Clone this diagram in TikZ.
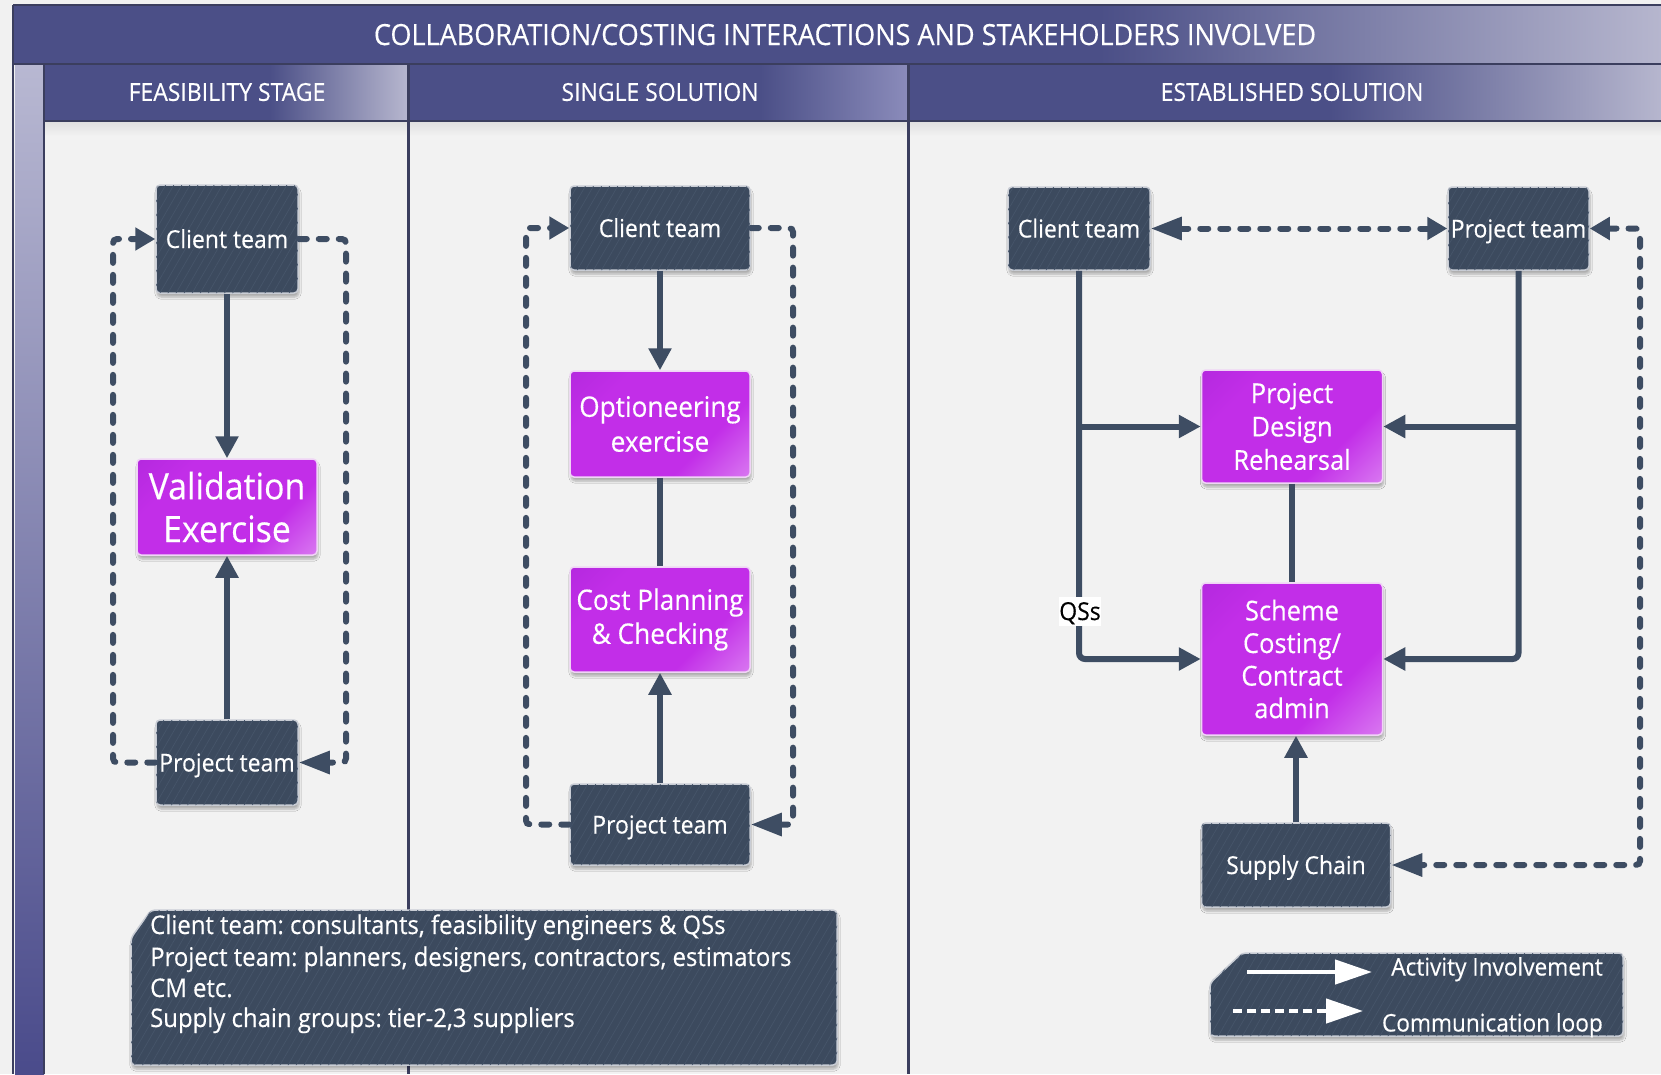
\documentclass[tikz,border=0pt]{standalone}
\usepackage{fontspec}
\setmainfont{Open Sans}[FakeStretch=0.93, FakeBold=0.35]
\usetikzlibrary{arrows.meta,shadows.blur,patterns.meta}
\frenchspacing

\definecolor{outside}{HTML}{F1F1F1}
\definecolor{paper}{HTML}{F2F2F2}
\definecolor{slate}{HTML}{3C4A5E}
\definecolor{wire}{HTML}{3E4D63}
\definecolor{hatch}{HTML}{46556A}
\definecolor{rimgray}{HTML}{C9CDD5}
\definecolor{barblue}{HTML}{4B4F87}
\definecolor{barmid}{HTML}{8A8BBA}
\definecolor{barlight}{HTML}{B6B6CE}
\definecolor{striplight}{HTML}{B8B8D2}
\definecolor{stripdark}{HTML}{4A4B8B}
\definecolor{divider}{HTML}{3B3E5E}
\definecolor{magA}{HTML}{A824D6}
\definecolor{magB}{HTML}{C22EE8}
\definecolor{magC}{HTML}{EAB0F7}
\definecolor{magrim}{HTML}{F0D4F6}

% diagonal fill of the task boxes: deep violet corner to pale pink corner
\pgfdeclarehorizontalshading{taskfill}{100bp}{color(0bp)=(magA); color(30bp)=(magB);
  color(66bp)=(magB); color(100bp)=(magC)}

\newcommand{\boxfont}{\fontsize{24.8}{30}\selectfont}

\tikzset{
  softshadow/.style={blur shadow={shadow xshift=1bp, shadow yshift=-4bp,
      shadow blur steps=6, shadow opacity=28}},
  hatched/.style={postaction={pattern={Lines[angle=60,distance=7bp,line width=0.7bp]},
      pattern color=hatch}},
  teambox/.style={draw=rimgray, line width=1.5bp, fill=slate, rounded corners=4bp,
      text=white, font=\boxfont, inner sep=2bp, align=center,
      text height=18bp, text depth=0bp, softshadow, hatched},
  taskbox/.style={draw=magrim, line width=1.5bp, rounded corners=4bp,
      shading=taskfill, shading angle=-45,
      text=white, align=center, inner sep=2bp, softshadow},
  panelbox/.style={draw=rimgray, line width=1.5bp, fill=slate, rounded corners=4bp,
      softshadow, hatched},
  whitetext/.style={text=white, inner sep=0bp},
  act/.style={draw=wire, line width=6bp, -{Triangle[length=22bp,width=22bp]}},
  actline/.style={draw=wire, line width=6bp},
  comm/.style={draw=wire, line width=6bp, line cap=round,
      dash pattern=on 8bp off 12bp, rounded corners=4bp},
  tipS/.tip={Triangle[length=20bp,width=22bp]},
  tipL/.tip={Triangle[length=31bp,width=22bp]},
  legtip/.tip={Triangle[length=37bp,width=24bp]},
}

\begin{document}
\begin{tikzpicture}[x=1bp,y=-1bp]
\useasboundingbox (0,0) rectangle (1661,1074);

% ---------- frame, title bar and column headers ----------
\fill[outside] (0,0) rectangle (1661,1074);
\fill[paper] (44,121) rectangle (1661,1074);
\shade[top color=black!12, bottom color=paper] (45,122) rectangle (1661,136);

\fill[barblue] (13,5) rectangle (1661,63);
\shade[left color=barblue, right color=barlight] (1100,5) rectangle (1661,63);

\fill[barblue] (44,64) rectangle (1661,121);
\shade[left color=barblue, right color=barlight] (270,64) rectangle (407,121);
\shade[left color=barblue, right color=barmid] (760,64) rectangle (907,121);
\shade[left color=barblue, right color=barlight] (1330,64) rectangle (1661,121);

\shade[top color=striplight, bottom color=stripdark] (15,64) rectangle (44,1074);

\draw[divider, line width=2bp] (13,5) -- (1661,5);
\draw[divider, line width=2bp] (13,5) -- (13,1074);
\draw[divider, line width=2bp] (13,63.5) -- (1661,63.5);
\draw[divider, line width=2bp] (44,64) -- (44,1074);
\draw[divider, line width=2bp] (44,121) -- (1661,121);
\draw[divider, line width=3bp] (408.5,64) -- (408.5,1074);
\draw[divider, line width=3bp] (908,64) -- (908,1074);

\node[whitetext, font=\fontsize{29.2}{34}\selectfont, text height=20bp, text depth=0bp]
  (title) at (845,35) {COLLABORATION/COSTING INTERACTIONS AND STAKEHOLDERS INVOLVED};
\node[whitetext, font=\fontsize{24.8}{30}\selectfont, text height=17.7bp, text depth=0bp]
  (hfeas) at (227,92) {FEASIBILITY STAGE};
\node[whitetext, font=\fontsize{24.8}{30}\selectfont, text height=17.7bp, text depth=0bp]
  (hsingle) at (660,92) {SINGLE SOLUTION};
\node[whitetext, font=\fontsize{24.8}{30}\selectfont, text height=17.7bp, text depth=0bp]
  (hest) at (1292,92) {ESTABLISHED SOLUTION};

% ---------- feasibility stage ----------
\node[teambox, minimum width=142bp, minimum height=108bp] (fc) at (227,239) {Client team};
\node[taskbox, minimum width=180bp, minimum height=96bp,
      font=\fontsize{36.5}{43}\selectfont] (fv) at (227,507) {Validation\\Exercise};
\node[teambox, minimum width=142bp, minimum height=85bp] (fp) at (227,762.5) {Project team};

\coordinate (fl) at (113,0);
\coordinate (fr) at (346,0);
\draw[act] (fc.south) -- (fv.north);
\draw[act] (fp.north) -- (fv.south);
\draw[comm, -tipS] (fp.west) -| (fl |- fc.west) -- (fc.west);
\draw[comm, -tipL] (fc.east) -| (fr |- fp.east) -- (fp.east);

% ---------- single solution ----------
\node[teambox, minimum width=180bp, minimum height=84bp] (sc) at (660,228) {Client team};
\node[taskbox, minimum width=180bp, minimum height=106bp,
      font=\fontsize{28.3}{35}\selectfont] (so) at (660,424) {Optioneering\\exercise};
\node[taskbox, minimum width=180bp, minimum height=105bp,
      font=\fontsize{28.3}{34}\selectfont] (sk) at (660,619.5) {Cost Planning\\\& Checking};
\node[teambox, minimum width=180bp, minimum height=81bp] (sp) at (660,824.5) {Project team};

\coordinate (sl) at (526,0);
\coordinate (sr) at (793,0);
\draw[act] (sc.south) -- (so.north);
\draw[actline] (so.south) -- (sk.north);
\draw[act] (sp.north) -- (sk.south);
\draw[comm, -tipS] (sp.west) -| (sl |- sc.west) -- (sc.west);
\draw[comm, -tipL] (sc.east) -| (sr |- sp.east) -- (sp.east);

% ---------- established solution ----------
\node[teambox, minimum width=142bp, minimum height=83bp] (ec) at (1079,228.5) {Client team};
\node[teambox, minimum width=141bp, minimum height=83bp] (ep) at (1518.5,228.5) {Project team};
\node[taskbox, minimum width=181bp, minimum height=113bp,
      font=\fontsize{27.5}{33.5}\selectfont] (ed) at (1292,426.5) {Project\\Design\\Rehearsal};
\node[taskbox, minimum width=181bp, minimum height=152bp,
      font=\fontsize{27.5}{32.7}\selectfont] (es) at (1292,659) {Scheme\\Costing/\\Contract\\admin};
\node[teambox, minimum width=189bp, minimum height=84bp] (eu) at (1296,865) {Supply Chain};

\coordinate (er) at (1640,0);
\draw[comm, tipL-tipS] (ec.east) -- (ep.west);
\draw[comm, tipS-tipL] (ep.east) -| (er |- eu.east) -- (eu.east);

\draw[act, rounded corners=6bp] (ec.south) |- (es.west);
\draw[act] (ec.south |- ed.west) -- (ed.west);
\draw[act, rounded corners=6bp] (ep.south) |- (es.east);
\draw[act] (ep.south |- ed.east) -- (ed.east);
\draw[actline] (ed.south) -- (es.north);
\draw[act] (eu.north) -- (eu.north |- es.south);

\node[fill=white, text=black, font=\boxfont, inner sep=0bp, minimum width=41bp,
      minimum height=29bp, text height=18bp, text depth=0bp] (qs) at (1080,611) {QSs};

% ---------- stakeholder note ----------
\path[panelbox] (131,938) -- (151,910) -- (837,910) -- (837,1065) -- (131,1065) -- cycle;
\node[whitetext, font=\fontsize{25.8}{30}\selectfont, anchor=base west] (note1) at (150,934)
  {Client team: consultants, feasibility engineers \& QSs};
\node[whitetext, font=\fontsize{25.8}{30}\selectfont, anchor=base west] (note2) at (150,966)
  {Project team: planners, designers, contractors, estimators};
\node[whitetext, font=\fontsize{25.8}{30}\selectfont, anchor=base west] (note3) at (150,997)
  {CM etc.};
\node[whitetext, font=\fontsize{25.8}{30}\selectfont, anchor=base west] (note4) at (150,1027)
  {Supply chain groups: tier-2,3 suppliers};

% ---------- legend ----------
\path[panelbox] (1210,983) -- (1242,953) -- (1623,953) -- (1623,1036) -- (1210,1036) -- cycle;
\coordinate (la1) at (1247,972);
\coordinate (la2) at (1372,972);
\coordinate (lb1) at (1233,1011);
\coordinate (lb2) at (1363,1011);
\draw[white, line width=4.5bp, -legtip] (la1) -- (la2);
\draw[white, line width=4.5bp, dash pattern=on 9bp off 5bp, -legtip] (lb1) -- (lb2);
\node[whitetext, font=\fontsize{24.4}{29}\selectfont, text height=17bp, text depth=0bp,
      anchor=east] (leg1) at (1603,967) {Activity Involvement};
\node[whitetext, font=\fontsize{24.4}{29}\selectfont, text height=17bp, text depth=0bp,
      anchor=east] (leg2) at (1603,1023) {Communication loop};
\end{tikzpicture}
\end{document}
